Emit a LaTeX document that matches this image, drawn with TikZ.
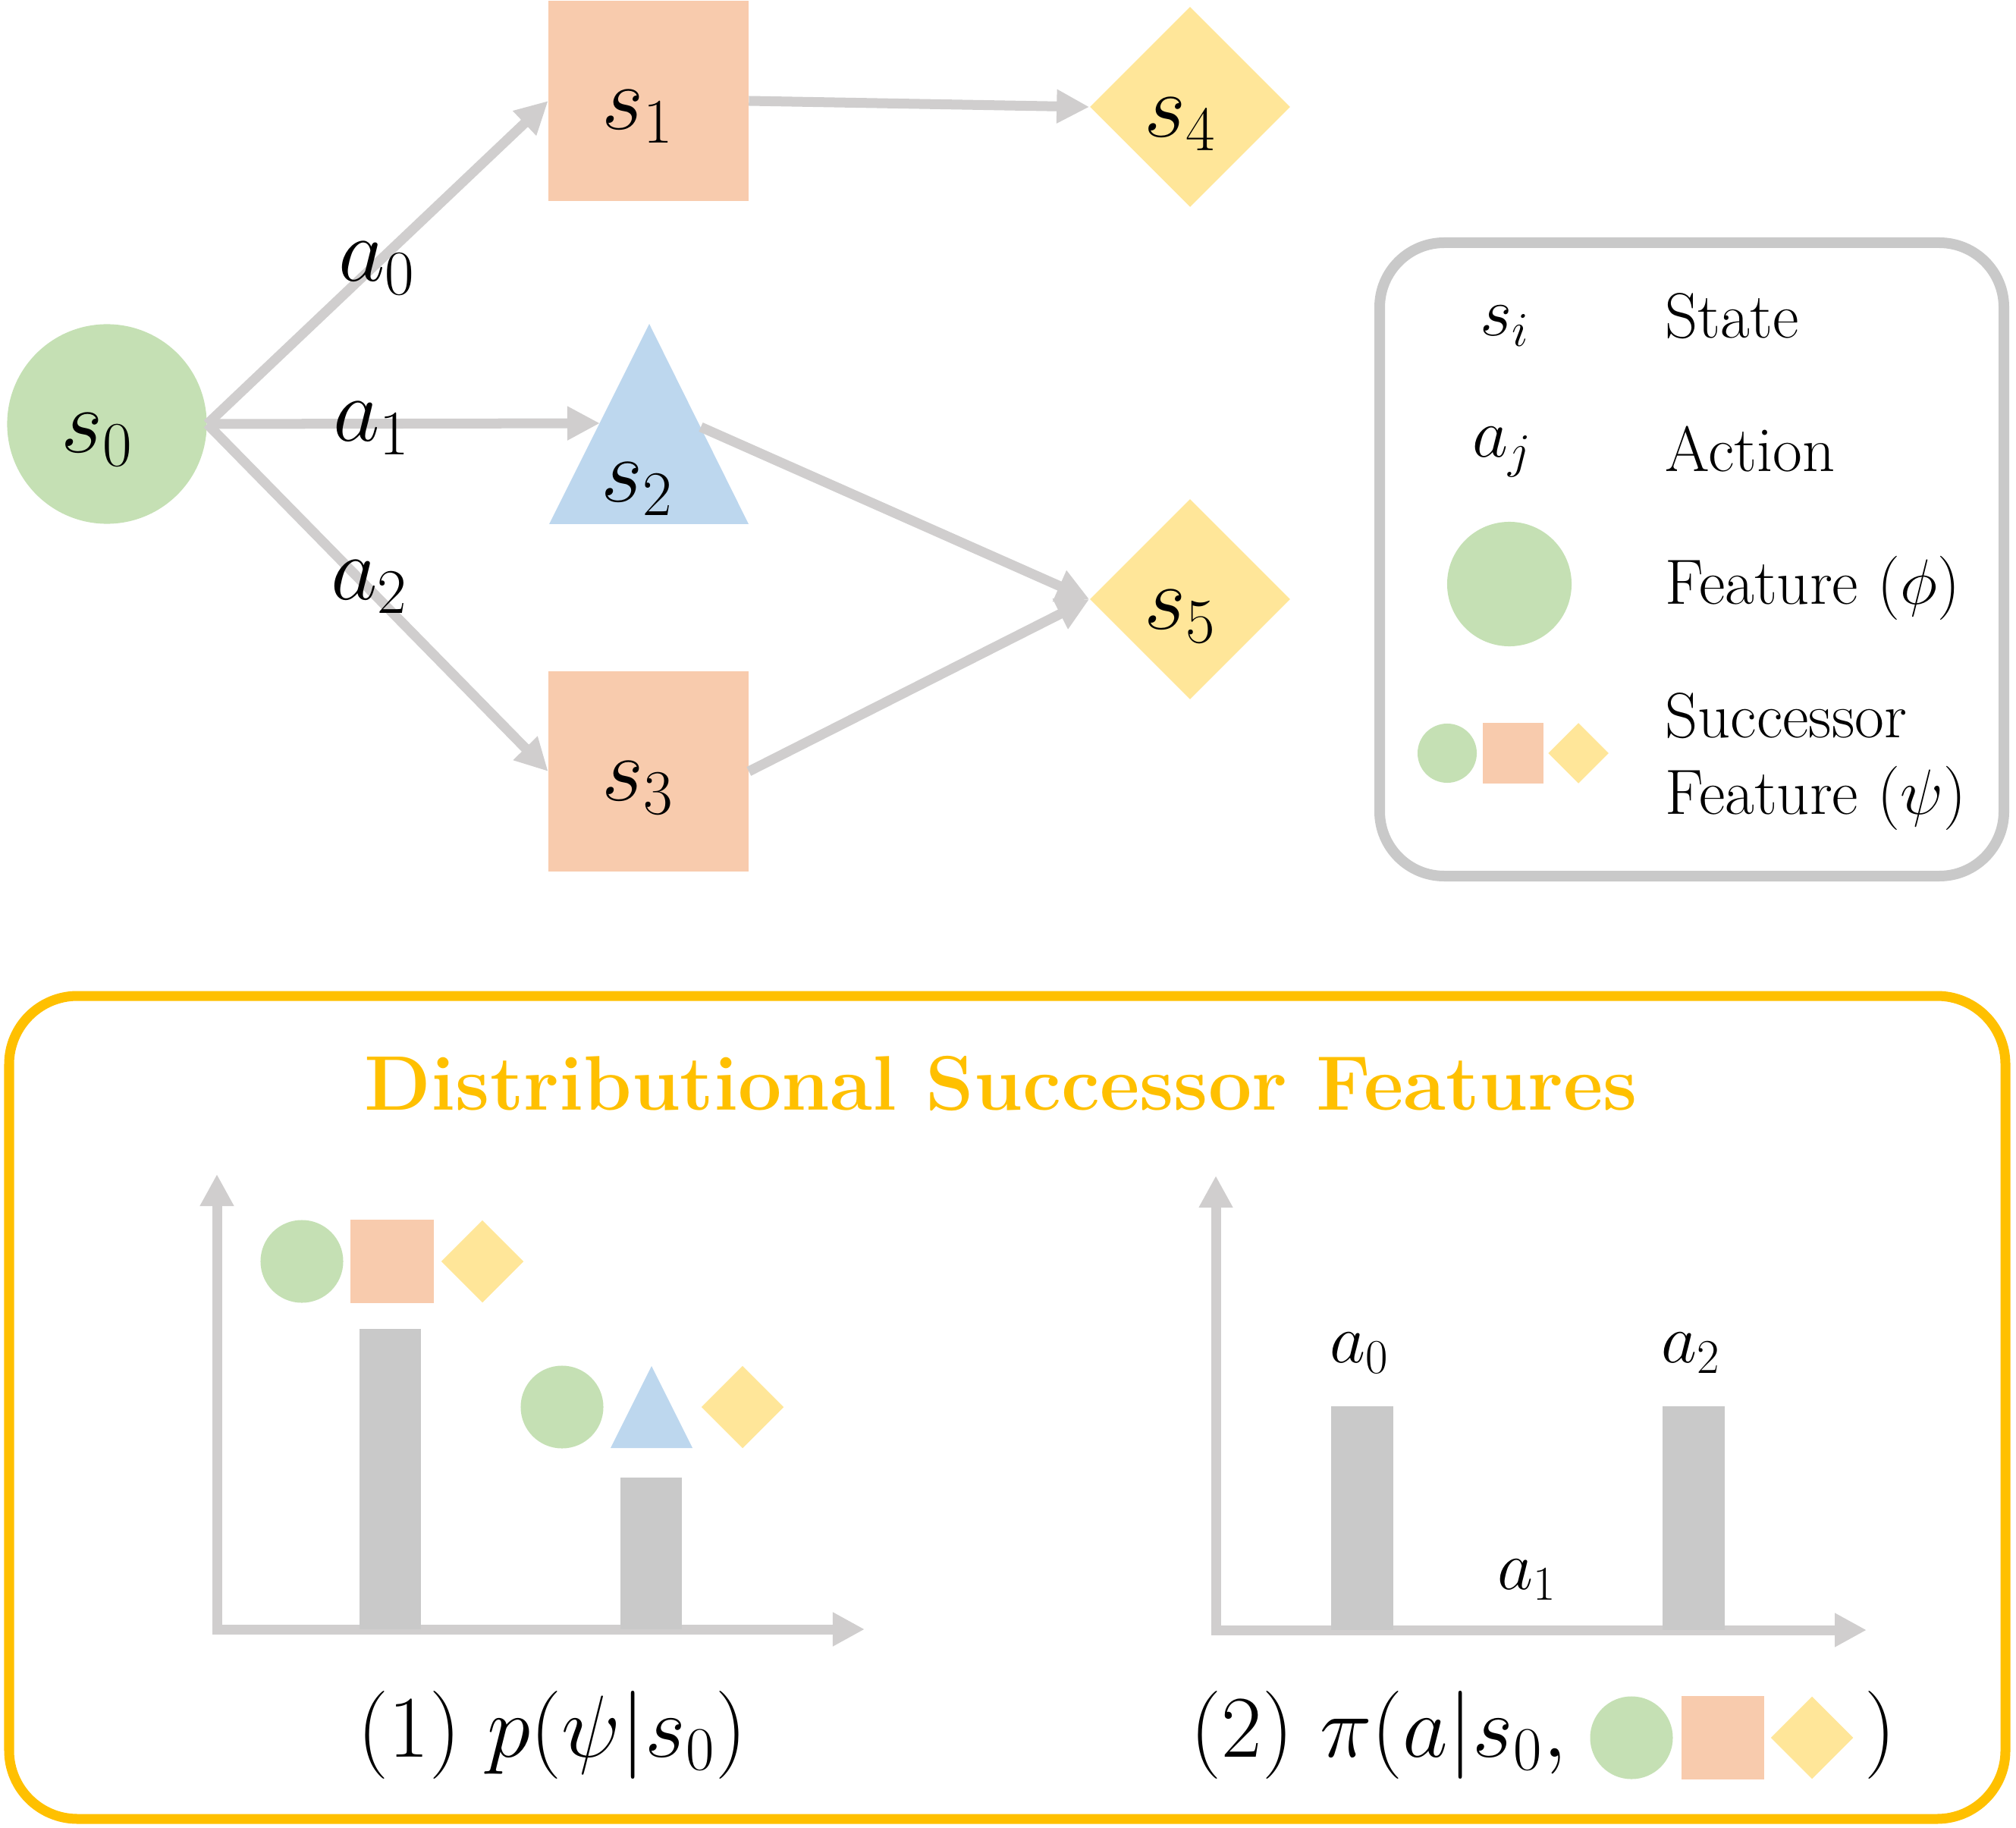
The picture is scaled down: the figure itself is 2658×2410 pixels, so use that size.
\RequirePackage{fix-cm}
\documentclass[tikz,border=0pt]{standalone}
\usetikzlibrary{arrows.meta,shapes.geometric}
\definecolor{cgreen}{HTML}{C5E0B4}
\definecolor{cpeach}{HTML}{F8CBAD}
\definecolor{cyellow}{HTML}{FFE699}
\definecolor{cblue}{HTML}{BDD7EE}
\definecolor{cline}{HTML}{D0CECE}
\definecolor{cbar}{HTML}{C9C9C9}
\definecolor{cgold}{HTML}{FFC000}
\tikzset{
  conn/.style={draw=cline, line width=0.13cm, -{Triangle[length=0.43cm,width=0.42cm]}},
  axisline/.style={draw=cline, line width=0.13cm, -{Triangle[length=0.42cm,width=0.42cm]}},
  bigmath/.style={font=\fontsize{34}{40}\selectfont, inner sep=0},
  midmath/.style={font=\fontsize{26}{31}\selectfont, inner sep=0},
  legtxt/.style={font=\fontsize{24}{29}\selectfont, anchor=base west, inner sep=0},
  captxt/.style={font=\fontsize{33}{39}\selectfont, inner sep=0, anchor=base},
  circ/.style={circle, fill=cgreen, inner sep=0, minimum size=#1},
  sqr/.style={rectangle, fill=cpeach, inner sep=0, minimum size=#1},
  dia/.style={diamond, fill=cyellow, inner sep=0, minimum size=#1, aspect=1},
}
\begin{document}
\begin{tikzpicture}[x=0.01cm,y=-0.01cm]
\useasboundingbox (0,0) rectangle (2658,2410);
% ---------- top graph ----------
\node[circ=2.63cm] (s0) at (141,559) {};
\node[sqr=2.63cm] (s1) at (855,133) {};
\node[sqr=2.63cm] (s3) at (855,1017) {};
\node[dia=2.64cm] (s4) at (1569,141) {};
\node[dia=2.64cm] (s5) at (1569,790) {};
\fill[cblue] (856,427) -- (987,691) -- (724,691) -- cycle;
\coordinate (s2in) at (791,558);
\coordinate (s2out) at (924,563);
\draw[conn] (s0.east) -- (s1.west);
\draw[conn] (s0.east) -- (s2in);
\draw[conn] (s0.east) -- (s3.west);
\draw[conn] (s1.east) -- (s4.west);
\draw[conn] (s2out) -- (s5.west);
\draw[conn] (s3.east) -- (s5.west);
\node[bigmath] (l0) at (128,580) {$s_0$};
\node[bigmath] (l1) at (841,154) {$s_1$};
\node[bigmath] (l2) at (840,645) {$s_2$};
\node[bigmath] (l3) at (841,1039) {$s_3$};
\node[bigmath] (l4) at (1556,164) {$s_4$};
\node[bigmath] (l5) at (1556,813) {$s_5$};
\node[bigmath] (e0) at (497,354) {$a_0$};
\node[bigmath] (e1) at (490,565) {$a_1$};
\node[bigmath] (e2) at (487,774) {$a_2$};
% ---------- legend ----------
\draw[draw=cbar, line width=0.14cm, rounded corners=0.85cm] (1819,320) rectangle (2642,1155);
\node[midmath] (lsi) at (1984,430) {$s_i$};
\node[midmath] (laj) at (1981,596) {$a_j$};
\node[legtxt] (tstate) at (2195,446) {State};
\node[legtxt] (taction) at (2195,622) {Action};
\node[circ=1.64cm] (lphi) at (1990,770) {};
\node[legtxt] (tphi) at (2195,797) {Feature ($\phi$)};
\node[circ=0.78cm] (lpc) at (1908,993) {};
\node[sqr=0.80cm] (lps) at (1995,993) {};
\node[dia=0.80cm] (lpd) at (2081,993) {};
\node[legtxt] (tsucc) at (2195,972) {Successor};
\node[legtxt] (tpsi) at (2195,1073) {Feature ($\psi$)};
% ---------- bottom box ----------
\draw[draw=cgold, line width=0.13cm, rounded corners=0.9cm] (12,1313) rectangle (2644,2398);
\node[font=\fontsize{29}{35}\selectfont\bfseries, text=cgold, anchor=base, inner sep=0] (title) at (1320,1463) {Distributional Successor Features};
% left chart
\coordinate (lo) at (286,2148);
\coordinate (ly) at (286,1548);
\coordinate (lx) at (1140,2148);
\draw[axisline] ([yshift=-0.065cm]lo) -- (ly);
\draw[axisline] ([xshift=-0.065cm]lo) -- (lx);
\fill[cbar] (474,1752) rectangle (555,2148);
\fill[cbar] (818,1948) rectangle (899,2148);
\node[circ=1.09cm] (ic1) at (398,1663) {};
\node[sqr=1.09cm] (is1) at (517,1663) {};
\node[dia=1.09cm] (id1) at (636,1663) {};
\node[circ=1.09cm] (ic2) at (741,1855) {};
\fill[cblue] (859,1801) -- (913,1909) -- (805,1909) -- cycle;
\node[dia=1.09cm] (id2) at (979,1855) {};
% right chart
\coordinate (ro) at (1603,2149);
\coordinate (ry) at (1603,1550);
\coordinate (rx) at (2461,2149);
\draw[axisline] ([yshift=-0.065cm]ro) -- (ry);
\draw[axisline] ([xshift=-0.065cm]ro) -- (rx);
\fill[cbar] (1755,1854) rectangle (1837,2149);
\fill[cbar] (2192,1854) rectangle (2274,2149);
\node[midmath] (b0) at (1793,1784) {$a_0$};
\node[midmath] (b2) at (2230,1784) {$a_2$};
\node[midmath] (b1) at (2014,2083) {$a_1$};
% captions
\node[captxt] (cap1) at (728,2316) {(1) $p(\psi|s_0)$};
\node[captxt, anchor=base west] (cap2) at (1569,2316) {(2) $\pi(a|s_0,$};
\node[circ=1.09cm] (cc) at (2151,2291) {};
\node[sqr=1.09cm] (cs) at (2271,2291) {};
\node[dia=1.09cm] (cd) at (2389,2291) {};
\node[captxt, anchor=base west] (cap2e) at (2458,2316) {$)$};
\end{tikzpicture}
\end{document}
